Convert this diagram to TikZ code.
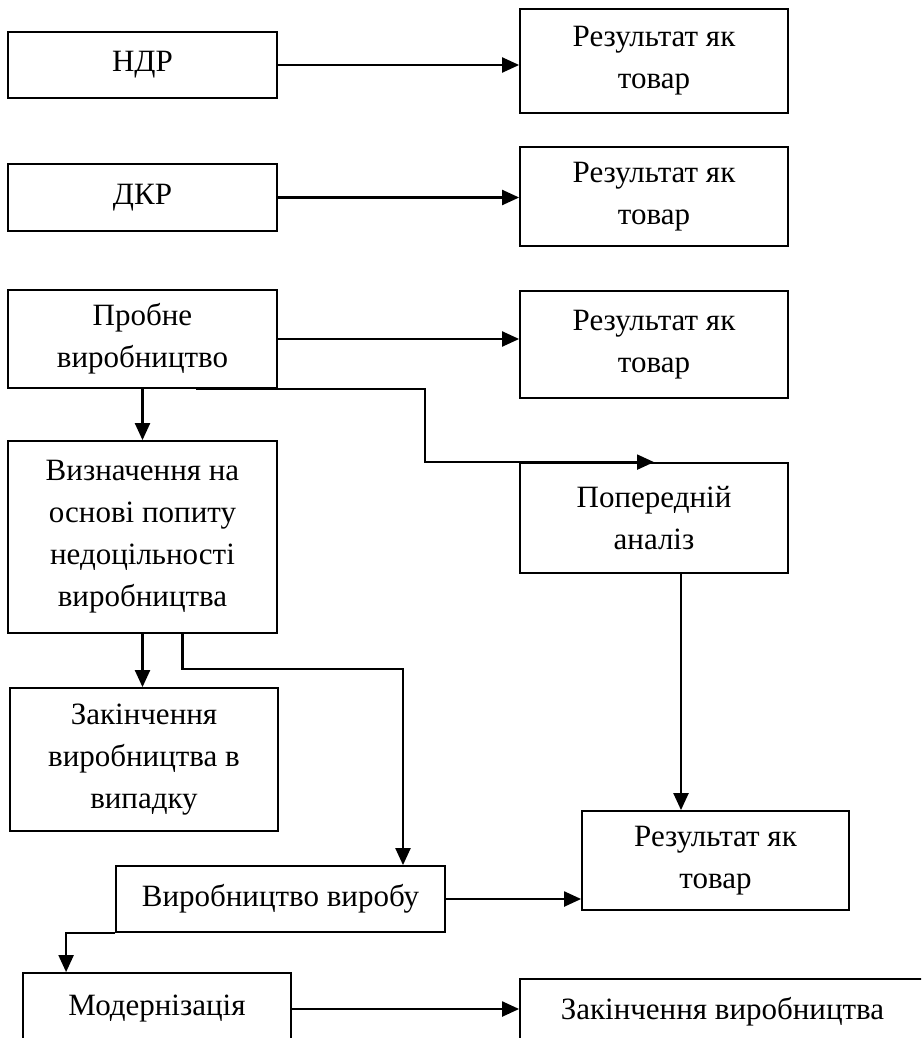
\documentclass[tikz,border=0pt]{standalone}
\usepackage{fontspec}
\setmainfont{Liberation Serif}
\usepackage{tikz}
\usetikzlibrary{arrows.meta, calc}

\begin{document}
\begin{tikzpicture}[x=0.5pt, y=-0.5pt,
    blok/.style={rectangle, draw=black, line width=0.9pt, align=center, inner sep=2pt, font=\fontsize{15.5}{21}\selectfont},
    arr/.style={line width=1.1pt, -{Triangle[length=8.5pt, width=7.5pt]}}]
    \clip (0,0) rectangle (921,1038);

    % ліва колонка
    \node[blok, minimum width=134.5pt, minimum height=33pt] (ndr) at (142.5,65) {НДР};
    \node[blok, minimum width=134.5pt, minimum height=33.5pt] (dkr) at (142.5,197.5) {ДКР};
    \node[blok, minimum width=134.5pt, minimum height=49pt] (probne) at (142.5,339) {Пробне\\виробництво};
    \node[blok, minimum width=134.5pt, minimum height=96pt] (vyzn) at (142.5,537) {Визначення на\\основі попиту\\недоцільності\\виробництва};
    \node[blok, minimum width=134pt, minimum height=71.5pt] (zakin1) at (144,759.5) {Закінчення\\виробництва в\\випадку};
    \node[blok, minimum width=164.5pt, minimum height=33pt] (vyrob) at (280.5,899) {Виробництво виробу};
    \node[blok, minimum width=134pt, minimum height=36pt] (modern) at (157,1009) {Модернізація};

    % права колонка
    \node[blok, minimum width=134pt, minimum height=52pt] (rez1) at (654,61) {Результат як\\товар};
    \node[blok, minimum width=134pt, minimum height=49.5pt] (rez2) at (654,196.5) {Результат як\\товар};
    \node[blok, minimum width=134pt, minimum height=53.5pt] (rez3) at (654,344.5) {Результат як\\товар};
    \node[blok, minimum width=134pt, minimum height=55pt] (poper) at (654,518) {Попередній\\аналіз};
    \node[blok, minimum width=133.5pt, minimum height=49.5pt] (rez4) at (715.5,860.5) {Результат як\\товар};
    \node[blok, minimum width=202.5pt, minimum height=33pt] (zakin2) at (722.5,1012) {Закінчення виробництва};

    % стрілки
    \draw[arr] (ndr.east) -- (ndr.east -| rez1.west);
    \draw[arr] (dkr.east) -- (dkr.east -| rez2.west);
    \draw[arr] (probne.east) -- (probne.east -| rez3.west);
    \draw[arr] (probne.south) -- (vyzn.north);
    \draw[arr] ($(probne.south)+(53.5,0)$) -| ($(poper.north)+(-229,0)$) -- (poper.north);
    \draw[arr] (vyzn.south) -- (vyzn.south |- zakin1.north);
    \draw[arr] ($(vyzn.south)+(40,0)$) -- ++(0,35) -| ($(vyrob.north)+(122.5,0)$);
    \draw[arr] ($(poper.south)+(27,0)$) -- ($(rez4.north)+(-34.5,0)$);
    \draw[arr] (vyrob.east) -- (vyrob.east -| rez4.west);
    \draw[arr] (vyrob.south west) -| ($(modern.north west)+(44,0)$);
    \draw[arr] (modern.east) -- (modern.east -| zakin2.west);
\end{tikzpicture}
\end{document}
